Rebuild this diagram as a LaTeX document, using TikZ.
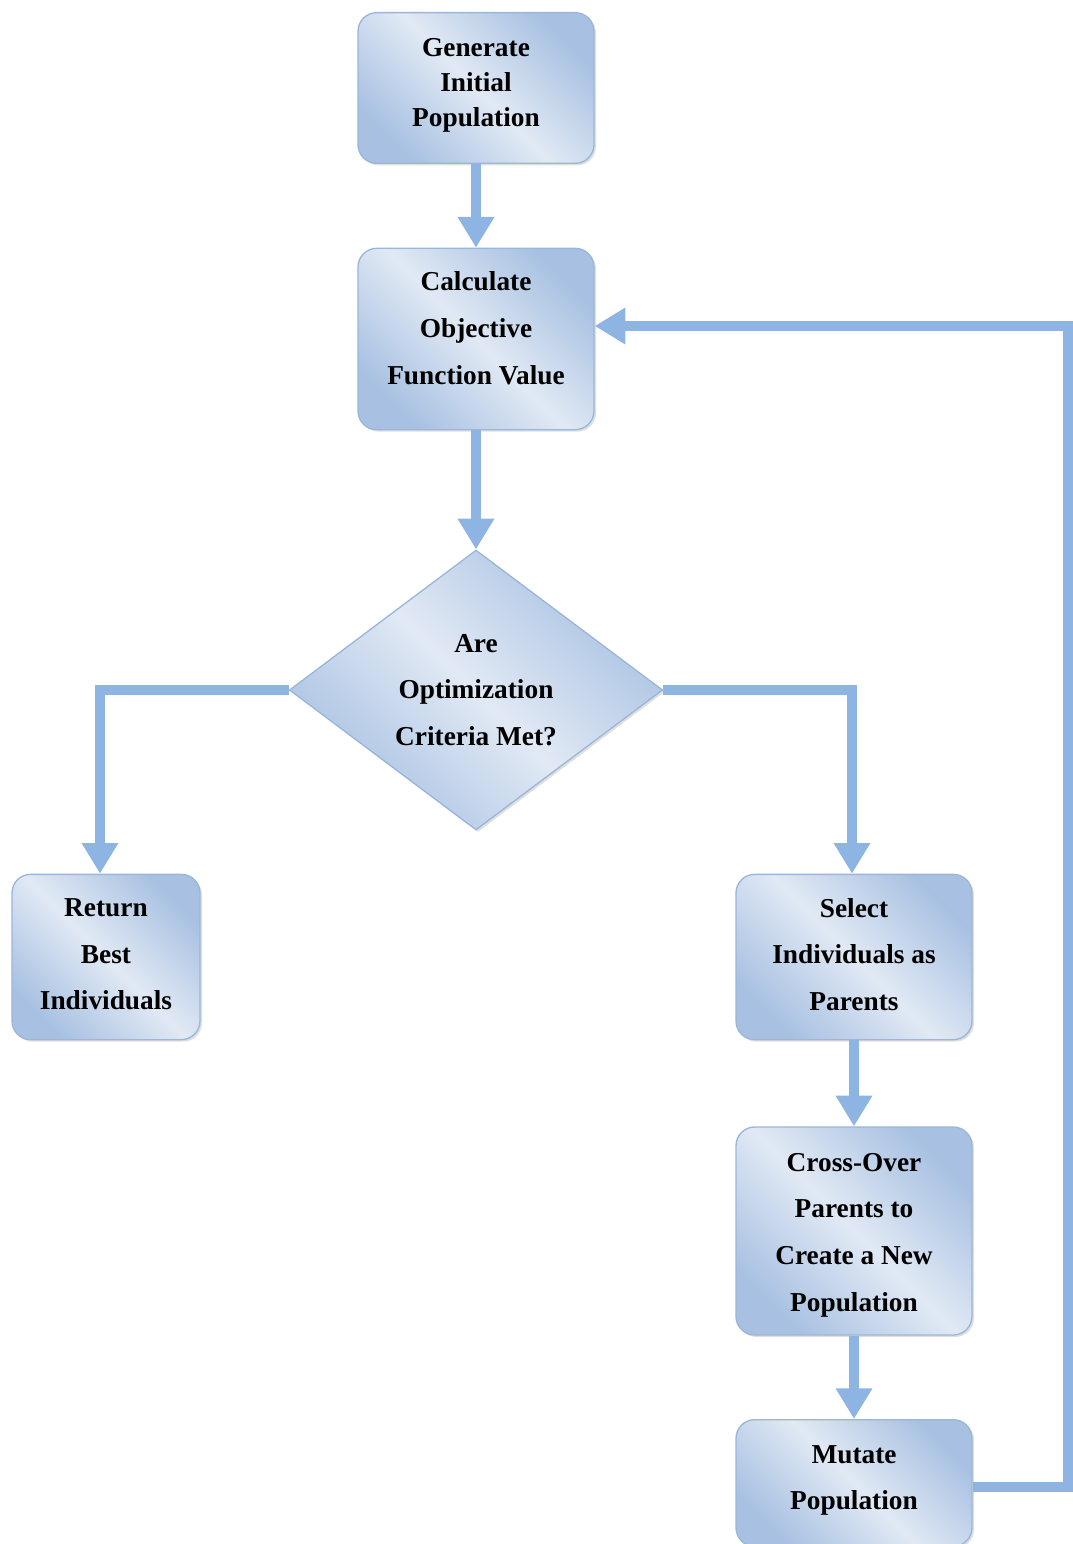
\documentclass[tikz,border=0pt]{standalone}
\usepackage{fontspec}
\setmainfont{Liberation Serif}
\usetikzlibrary{arrows.meta,shapes.geometric,shadows,calc}
\definecolor{linec}{HTML}{8EB4E3}
\definecolor{boxdark}{HTML}{A8C1E2}
\definecolor{boxlight}{HTML}{E1E9F4}
\definecolor{boxedge}{HTML}{9AB6D9}
\tikzset{
  boxstyle/.style={draw=boxedge, line width=1pt, rounded corners=14pt,
    top color=boxdark, bottom color=boxdark, middle color=boxlight, shading angle=-45,
    drop shadow={shadow xshift=1.5pt, shadow yshift=-1.5pt, opacity=0.25},
    align=center, inner sep=0pt, font=\bfseries\fontsize{20.5}{35}\selectfont},
  txtstyle/.style={align=center, font=\bfseries\fontsize{20.5}{35}\selectfont},
  flow/.style={draw=linec, line width=7.5pt, -{Triangle[width=26pt,length=23pt]}}
}
\begin{document}
\begin{tikzpicture}[x=0.75pt,y=-0.75pt]
\useasboundingbox (0,0) rectangle (1072,1544);
\node[boxstyle, minimum width=177pt, minimum height=113pt,
  label={[txtstyle, font=\bfseries\fontsize{20.5}{26.5}\selectfont, yshift=2pt]center:Generate\\Initial\\Population}] (gen) at (476,88) {};
\node[boxstyle, minimum width=177pt, minimum height=136pt,
  label={[txtstyle, yshift=8pt]center:Calculate\\Objective\\Function Value}] (calc) at (476,339) {};
\node[diamond, draw=boxedge, line width=1pt, top color=boxdark, bottom color=boxdark, middle color=boxlight, shading angle=-45,
  drop shadow={shadow xshift=1.5pt, shadow yshift=-1.5pt, opacity=0.25},
  minimum width=280pt, minimum height=210pt, inner sep=0pt,
  label={[txtstyle]center:Are\\Optimization\\Criteria Met?}] (dia) at (476,690) {};
\node[boxstyle, minimum width=141pt, minimum height=124pt,
  label={[txtstyle, yshift=2pt]center:Return\\Best\\Individuals}] (ret) at (106,957) {};
\node[boxstyle, minimum width=177pt, minimum height=124pt,
  label={[txtstyle, yshift=2pt]center:Select\\Individuals as\\Parents}] (sel) at (854,957) {};
\node[boxstyle, minimum width=177pt, minimum height=156pt,
  label={[txtstyle, yshift=-3pt]center:Cross-Over\\Parents to\\Create a New\\Population}] (cross) at (854,1231) {};
\node[boxstyle, minimum width=177pt, minimum height=95pt,
  label={[txtstyle, yshift=2pt]center:Mutate\\Population}] (mut) at (854,1483) {};
\draw[flow] (gen.south) -- (calc.north);
\draw[flow] (calc.south) -- (dia.north);
\draw[flow] (dia.west) -| ($(ret.north)+(-6,0)$);
\draw[flow] (dia.east) -| ($(sel.north)+(-2,0)$);
\draw[flow] (sel.south) -- (cross.north);
\draw[flow] (cross.south) -- (mut.north);
\draw[flow] ($(mut.east)+(0,4)$) -- ++(95,0) |- ($(calc.east)+(0,-13)$);
\end{tikzpicture}
\end{document}
